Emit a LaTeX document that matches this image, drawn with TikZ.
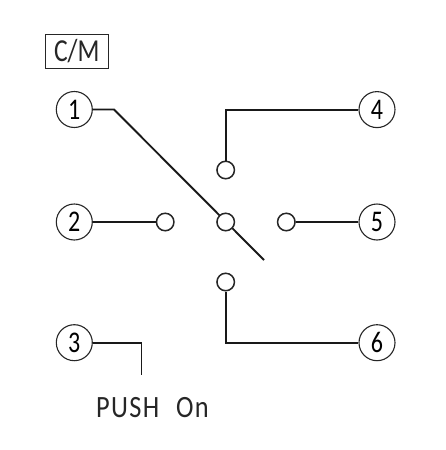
\documentclass[tikz,border=0pt]{standalone}
\usepackage{fontspec}
\setmainfont{Carlito}
\newfontfamily\spacedfont[LetterSpace=5]{Carlito}
\newcommand{\narrow}[1]{\scalebox{0.8}[1]{#1}}
\tikzset{
  px/.style={x=1pt,y=-1pt},
  term/.style={circle,draw=black!85,line width=1.1pt,fill=white,minimum size=36pt,inner sep=0pt,font=\fontsize{30}{30}\selectfont},
  contact/.style={circle,draw=black!85,line width=1.5pt,fill=white,minimum size=17.5pt,inner sep=0pt},
  wire/.style={draw=black!90,line width=1.9pt},
  lbl/.style={inner sep=0pt,text=black!85}
}
\begin{document}
\begin{tikzpicture}[px]
\useasboundingbox (0,0) rectangle (446,450);
\coordinate (bend1) at (114,109.5);
\coordinate (tip) at (264,260);
\coordinate (bend3) at (141.5,342.7);
\coordinate (free3) at (141.5,375);
\coordinate (bend4) at (225.7,109.6);
\coordinate (bend6) at (225.7,342.7);
\node[term] (t1) at (74.3,109.5) {\narrow{1}};
\node[term] (t2) at (74.3,222) {\narrow{2}};
\node[term] (t3) at (74.3,342.7) {\narrow{3}};
\node[term] (t4) at (377,109.6) {\narrow{4}};
\node[term] (t5) at (377,222) {\narrow{5}};
\node[term] (t6) at (377,342.7) {\narrow{6}};
\draw[wire] (t1) -- (bend1) -- (tip);
\node[contact] (c2) at (165.2,222) {};
\node[contact] (cc) at (225.7,222) {};
\node[contact] (c4) at (225.7,170) {};
\node[contact] (c5) at (286.3,222) {};
\node[contact] (c6) at (225.7,282) {};
\draw[wire] (t2) -- (c2);
\draw[wire] (t5) -- (c5);
\draw[wire] (t4) -- (bend4) -- (c4);
\draw[wire] (t6) -- (bend6) -- (c6);
\draw[wire] (t3) -- (bend3) -- (free3);
\node[draw=black!85,line width=1.1pt,minimum width=62.5pt,minimum height=33.5pt,inner sep=0pt,lbl,font=\fontsize{32}{32}\selectfont] (cm) at (76.8,51.5) {\narrow{C/M}};
\node[lbl,anchor=base west,font={\spacedfont\fontsize{31}{31}\selectfont}] (push) at (96,417) {\scalebox{0.85}[1]{PUSH\hspace{20pt}On}};
\end{tikzpicture}
\end{document}
